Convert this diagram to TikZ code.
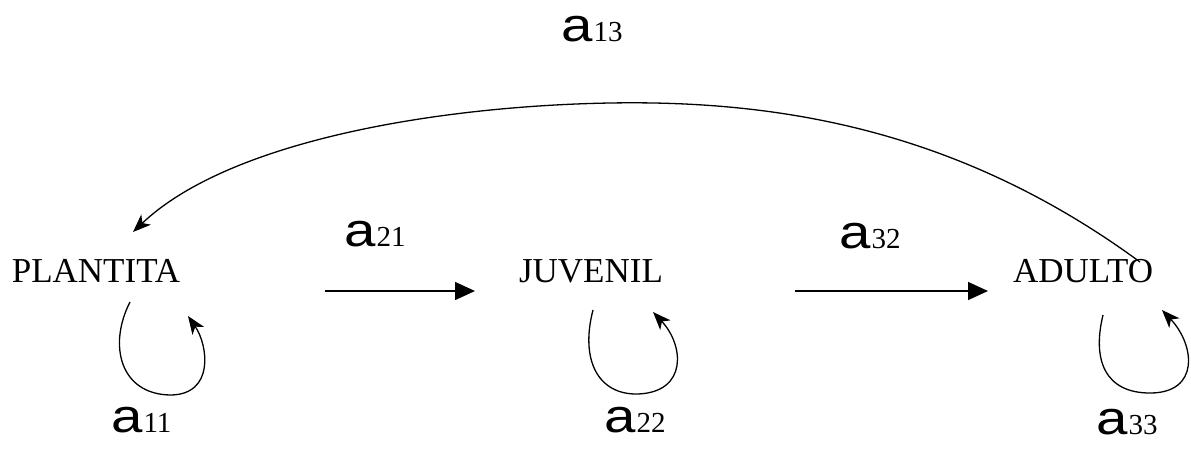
\documentclass[tikz,border=0pt]{standalone}
\usepackage{fontspec}
\setmainfont{Liberation Serif}
\newfontfamily\afont{Liberation Sans}
\usetikzlibrary{arrows.meta}
\newcommand{\coef}[1]{\scalebox{1.2}[1]{\afont\fontsize{47}{47}\selectfont a}\kern1pt{\fontsize{29}{29}\selectfont #1}}
\tikzset{
  stage/.style={anchor=base, inner sep=0pt, font=\fontsize{35}{35}\selectfont},
  coeflab/.style={anchor=base west, inner sep=0pt},
  trans/.style={line width=1.4pt, -{Triangle[length=20pt,width=18pt]}},
  curv/.style={line width=1.3pt, -{Stealth[length=18pt,width=14pt,inset=5pt]}}
}
\begin{document}
\begin{tikzpicture}[x=1pt,y=-1pt]
\useasboundingbox (0,0) rectangle (1191,448);
% stages
\node[stage] (P) at (96,282) {PLANTITA};
\node[stage] (J) at (591,282) {JUVENIL};
\node[stage] (A) at (1083,282) {ADULTO};
% labels
\node[coeflab] (l13) at (561,41) {\coef{13}};
\node[coeflab] (l21) at (344,246) {\coef{21}};
\node[coeflab] (l32) at (839,248) {\coef{32}};
\node[coeflab] (l11) at (111,432) {\coef{11}};
\node[coeflab] (l22) at (604,432) {\coef{22}};
\node[coeflab] (l33) at (1096,434) {\coef{33}};
% transition arrows
\coordinate (t1s) at (325,291);
\coordinate (t1e) at (475,291);
\coordinate (t2s) at (795,291);
\coordinate (t2e) at (988,291);
\draw[trans] (t1s) -- (t1e);
\draw[trans] (t2s) -- (t2e);
% reproduction arc
\coordinate (as) at (1140,262);
\coordinate (ae) at (133,232);
\draw[curv] (as) .. controls (960,130) and (780,100) .. (610,103)
  .. controls (440,106) and (230,140) .. (ae);
% self loops
\coordinate (p1) at (130,302);
\coordinate (p2) at (188,316);
\draw[curv] (p1) .. controls (108,345) and (120,394) .. (170,395)
  .. controls (215,395) and (208,345) .. (p2);
\coordinate (j1) at (593,310);
\coordinate (j2) at (653,312);
\draw[curv] (j1) .. controls (580,360) and (598,395) .. (638,394)
  .. controls (688,392) and (684,345) .. (j2);
\coordinate (d1) at (1103,315);
\coordinate (d2) at (1162,310);
\draw[curv] (d1) .. controls (1092,360) and (1105,393) .. (1150,393)
  .. controls (1200,393) and (1195,345) .. (d2);
\end{tikzpicture}
\end{document}
